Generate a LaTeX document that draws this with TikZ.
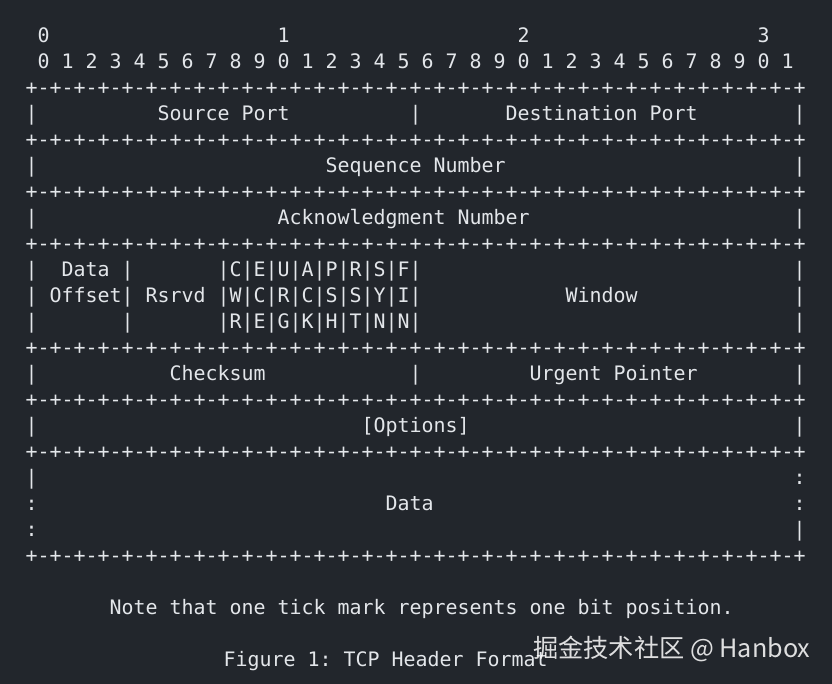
\documentclass[tikz,border=0pt]{standalone}
\usepackage{fontspec}
\setmonofont{DejaVu Sans Mono}
\newfontfamily\cjkfont{Noto Sans CJK SC}
\definecolor{termbg}{HTML}{22262C}
\definecolor{termfg}{HTML}{E3E6EA}
\frenchspacing

\begin{document}
\begin{tikzpicture}[x=12pt, y=-26pt,
    cell/.style={anchor=base west, inner sep=0pt, text=termfg,
                 font=\ttfamily\fontsize{19.93}{24}\selectfont}]
    \fill[termbg] (-2.125,-1.6346) rectangle (67.208,24.673);
    \useasboundingbox (-2.125,-1.6346) rectangle (67.208,24.673);

    % bit numbers
    \node[cell] (tens0) at (1,0) {0};
    \node[cell] (tens1) at (21,0) {1};
    \node[cell] (tens2) at (41,0) {2};
    \node[cell] (tens3) at (61,0) {3};
    \node[cell] (bits) at (1,1) {0 1 2 3 4 5 6 7 8 9 0 1 2 3 4 5 6 7 8 9 0 1 2 3 4 5 6 7 8 9 0 1};

    % tick rows
    \foreach \r in {2,4,6,8,12,14,16,20}
        \node[cell] (sep\r) at (0,\r) {+-+-+-+-+-+-+-+-+-+-+-+-+-+-+-+-+-+-+-+-+-+-+-+-+-+-+-+-+-+-+-+-+};

    % outer bars
    \foreach \r in {3,5,7,9,10,11,13,15} {
        \node[cell] (lbar\r) at (0,\r) {|};
        \node[cell] (rbar\r) at (64,\r) {|};
    }
    \node[cell] (mbar3) at (32,3) {|};
    \node[cell] (mbar13) at (32,13) {|};

    \node[cell] (srcport) at (11,3) {Source Port};
    \node[cell] (dstport) at (40,3) {Destination Port};
    \node[cell] (seqnum) at (25,5) {Sequence Number};
    \node[cell] (acknum) at (21,7) {Acknowledgment Number};

    \node[cell] (offset1) at (3,9) {Data |};
    \node[cell] (offset2) at (2,10) {Offset|};
    \node[cell] (offset3) at (8,11) {|};
    \node[cell] (rsrvd) at (10,10) {Rsrvd};
    \node[cell] (flags1) at (16,9) {|C|E|U|A|P|R|S|F|};
    \node[cell] (flags2) at (16,10) {|W|C|R|C|S|S|Y|I|};
    \node[cell] (flags3) at (16,11) {|R|E|G|K|H|T|N|N|};
    \node[cell] (window) at (45,10) {Window};

    \node[cell] (checksum) at (12,13) {Checksum};
    \node[cell] (urgent) at (42,13) {Urgent Pointer};
    \node[cell] (options) at (28,15) {[Options]};

    % data block
    \node[cell] (dl17) at (0,17) {|};
    \node[cell] (dr17) at (64,17) {:};
    \node[cell] (dl18) at (0,18) {:};
    \node[cell] (dr18) at (64,18) {:};
    \node[cell] (dl19) at (0,19) {:};
    \node[cell] (dr19) at (64,19) {|};
    \node[cell] (data) at (30,18) {Data};

    \node[cell] (note) at (7,22) {Note that one tick mark represents one bit position.};
    \node[cell] (caption) at (16.5,24) {Figure 1: TCP Header Format};

    \node[anchor=base west, inner sep=0pt, text=white, opacity=0.85,
          font=\cjkfont\fontsize{25.2}{28}\selectfont] (mark) at (42.3,23.65) {掘金技术社区 @ Hanbox};
\end{tikzpicture}
\end{document}
